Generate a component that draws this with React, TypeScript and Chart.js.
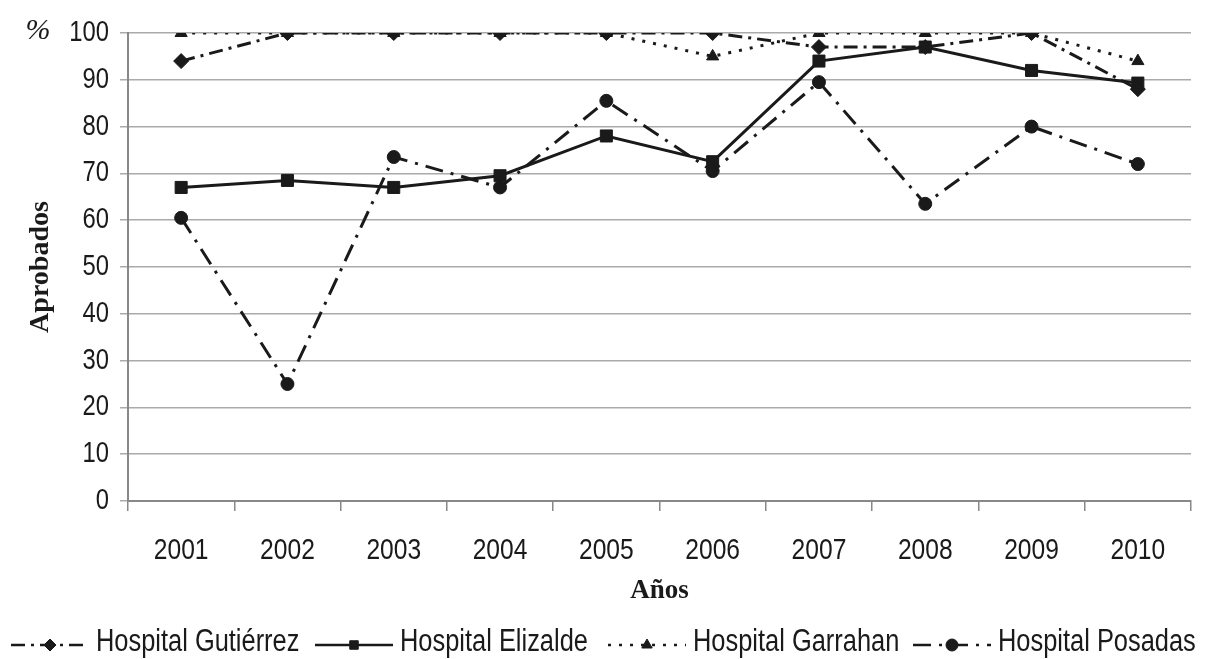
import React, { useEffect, useRef } from 'react';
import { Chart, registerables } from 'chart.js';
import { drawPoint } from 'chart.js/helpers';

Chart.register(...registerables);

const years = ['2001', '2002', '2003', '2004', '2005', '2006', '2007', '2008', '2009', '2010'];
const seriesNames = ['Hospital Gutiérrez', 'Hospital Elizalde', 'Hospital Garrahan', 'Hospital Posadas'];
const gutierrez = [94, 100, 100, 100, 100, 100, 97, 97, 100, 88];
const elizalde = [67, 68.5, 67, 69.5, 78, 72.5, 94, 97, 92, 89.3];
const garrahan = [100, 100, 100, 100, 100, 95, 100, 100, 100, 94];
const posadas = [60.5, 25, 73.5, 67, 85.5, 70.5, 89.5, 63.5, 80, 72];
const yAxisTitle = 'Aprobados';
const xAxisTitle = 'Años';
const unitLabel = '%';

const SANS = '"Liberation Sans", Arial, sans-serif';
const SERIF = '"Liberation Serif", "Times New Roman", serif';
const INK = '#1a1a1a';
const NARROW_SCALE = 0.82;

const legendX = [11, 315, 608, 913];
const legendSampleW = 78;

// Arial Narrow look: draw Liberation Sans text horizontally condensed
const narrowPlugin = {
  id: 'narrowText',
  beforeInit(chart: any) {
    const ctx = chart.ctx as CanvasRenderingContext2D;
    const orig = ctx.fillText.bind(ctx);
    (ctx as any).fillText = (text: string, x: number, y: number, maxWidth?: number) => {
      if (ctx.font.indexOf('Liberation Sans') >= 0) {
        ctx.save();
        ctx.translate(x, y);
        ctx.scale(NARROW_SCALE, 1);
        if (maxWidth === undefined) orig(text, 0, 0);
        else orig(text, 0, 0, maxWidth / NARROW_SCALE);
        ctx.restore();
      } else if (maxWidth === undefined) {
        orig(text, x, y);
      } else {
        orig(text, x, y, maxWidth);
      }
    };
  },
};

const legendPlugin = {
  id: 'customLegend',
  afterDraw(chart: any) {
    const ctx = chart.ctx as CanvasRenderingContext2D;
    ctx.save();
    ctx.font = `italic 30px ${SERIF}`;
    ctx.fillStyle = INK;
    ctx.textAlign = 'center';
    ctx.textBaseline = 'middle';
    ctx.fillText(unitLabel, 38, 31);

    chart.data.datasets.forEach((ds: any, i: number) => {
      const x0 = legendX[i];
      const y = 645;
      ctx.save();
      ctx.strokeStyle = ds.borderColor;
      ctx.lineWidth = 2.5;
      ctx.setLineDash(ds.borderDash || []);
      ctx.beginPath();
      ctx.moveTo(x0, y);
      ctx.lineTo(x0 + legendSampleW, y);
      ctx.stroke();
      ctx.setLineDash([]);
      ctx.fillStyle = ds.pointBackgroundColor;
      ctx.strokeStyle = ds.pointBorderColor;
      ctx.lineWidth = 1;
      drawPoint(ctx, { pointStyle: ds.pointStyle, rotation: 0, borderWidth: 1, radius: 6 } as any, x0 + legendSampleW / 2, y);
      ctx.restore();
      ctx.font = `31px ${SANS}`;
      ctx.fillStyle = INK;
      ctx.textAlign = 'left';
      ctx.textBaseline = 'middle';
      ctx.fillText(ds.label, x0 + legendSampleW + 7, 642);
    });
    ctx.restore();
  },
};

export default function App() {
  const canvasRef = useRef<HTMLCanvasElement | null>(null);

  useEffect(() => {
    document.body.style.margin = '0';
    const canvas = canvasRef.current;
    if (!canvas) return;
    const mk = (label: string, data: number[], style: string, radius: number, dash: number[]) => ({
      label,
      data,
      borderColor: INK,
      backgroundColor: INK,
      pointBackgroundColor: INK,
      pointBorderColor: INK,
      pointBorderWidth: 1,
      pointStyle: style,
      pointRadius: radius,
      borderWidth: 3,
      borderDash: dash,
      tension: 0,
      fill: false,
    });
    const chart = new Chart(canvas, {
      type: 'line',
      data: {
        labels: years,
        datasets: [
          mk(seriesNames[0], gutierrez, 'rectRot', 7.5, [14, 6, 3, 6]),
          mk(seriesNames[1], elizalde, 'rect', 8.5, []),
          mk(seriesNames[2], garrahan, 'triangle', 7, [3, 8]),
          mk(seriesNames[3], posadas, 'circle', 6.5, [18, 8, 3, 8]),
        ] as any,
      },
      options: {
        animation: false,
        responsive: false,
        devicePixelRatio: 1,
        layout: { padding: { top: 33, right: 14, bottom: 48, left: 0 } },
        plugins: {
          legend: { display: false },
          tooltip: { enabled: false },
        },
        scales: {
          x: {
            offset: true,
            grid: {
              display: true,
              drawOnChartArea: false,
              drawTicks: true,
              tickLength: 10,
              color: '#888',
              lineWidth: 1.5,
              offset: true,
            },
            border: { display: true, color: '#888', width: 2 },
            ticks: { font: { family: SANS, size: 30 }, color: INK, padding: 22, maxRotation: 0 },
            title: {
              display: true,
              text: xAxisTitle,
              color: INK,
              font: { family: SERIF, size: 27, weight: 'bold' },
              padding: { top: 0, bottom: 4 },
            },
            afterFit: (s: any) => {
              s.height = 110;
            },
          },
          y: {
            min: 0,
            max: 100,
            ticks: { stepSize: 10, font: { family: SANS, size: 29 }, color: INK, padding: 11 },
            grid: { color: '#aaa', lineWidth: 1.5, tickLength: 8 },
            border: { display: true, color: '#888', width: 2 },
            title: {
              display: true,
              text: yAxisTitle,
              color: INK,
              font: { family: SERIF, size: 28, weight: 'bold' },
              padding: { top: 24, bottom: 0 },
            },
            afterFit: (s: any) => {
              s.width = 128;
            },
          },
        },
      } as any,
      plugins: [narrowPlugin, legendPlugin],
    });
    return () => chart.destroy();
  }, []);

  return (
    <div style={{ width: 1205, height: 659, background: '#fff' }}>
      <canvas ref={canvasRef} width={1205} height={659} style={{ display: 'block', width: 1205, height: 659 }} />
    </div>
  );
}
